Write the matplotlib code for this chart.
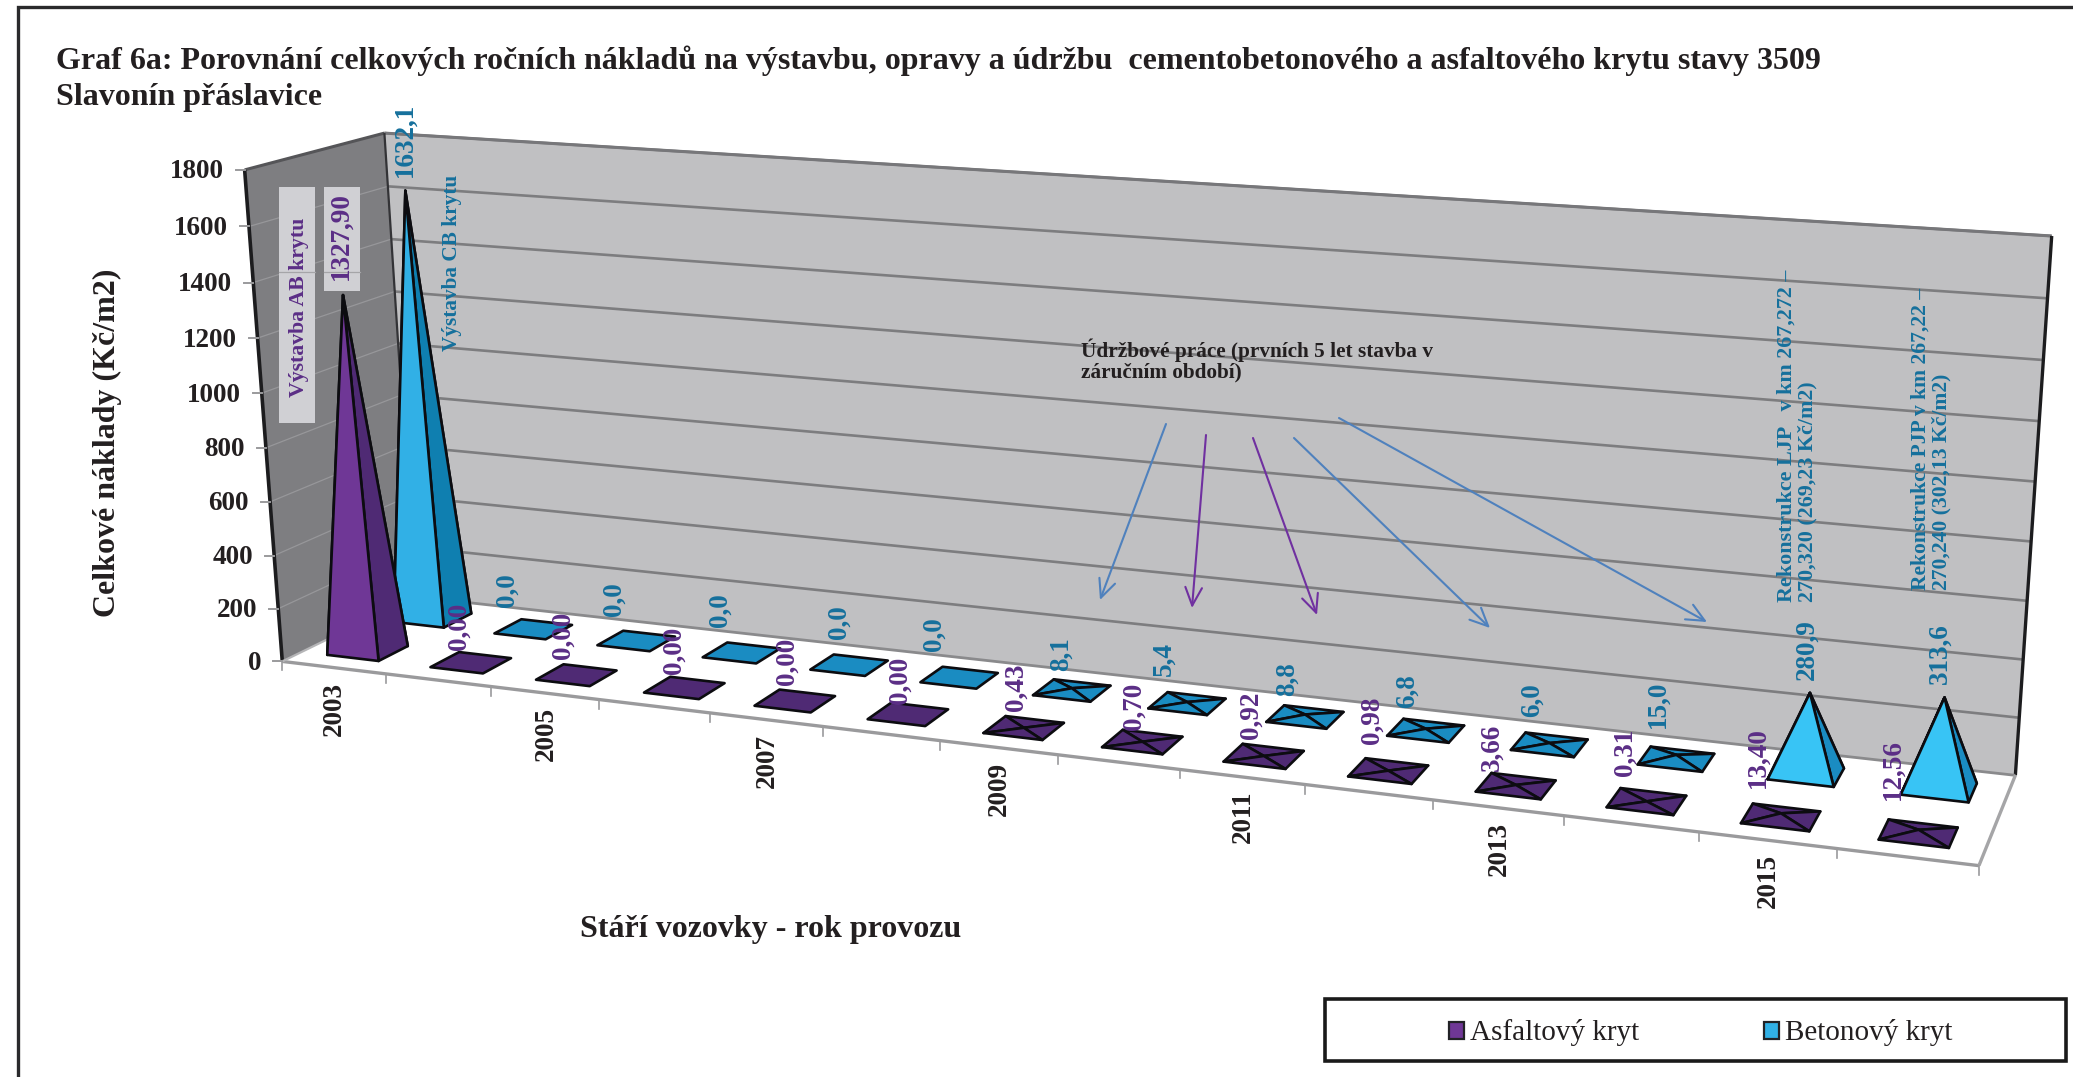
import numpy as np
import matplotlib
matplotlib.use("Agg")
import matplotlib.pyplot as plt
from matplotlib.patches import Polygon, Rectangle

plt.rcParams["font.family"] = ["Liberation Serif", "DejaVu Serif"]

# ---- data -------------------------------------------------------------
years = list(range(2003, 2017))
asphalt = [1327.90, 0.00, 0.00, 0.00, 0.00, 0.00, 0.43, 0.70, 0.92, 0.98, 3.66, 0.31, 13.40, 12.56]
concrete = [1632.1, 0.0, 0.0, 0.0, 0.0, 0.0, 8.1, 5.4, 8.8, 6.8, 6.0, 15.0, 280.9, 313.6]
y_ticks = list(range(0, 2000, 200))
series_names = ["Asfaltový kryt", "Betonový kryt"]

# ---- label nudges (pixels from the pyramid apex) --------------------------
asphalt_nudge = [(-2, -15), (-12, -13), (-13, -16), (-10, -14), (-8, -16), (-8, -10),
                 (-8, -17), (-8, -12), (-13, -17), (-16, -27), (-24, -14), (-21, -25),
                 (-23, -25), (-26, -30)]
concrete_nudge = [(0, -14), (-26, -22), (-22, -25), (-21, -26), (-10, -26), (-25, -27),
                  (-11, -17), (-23, -26), (-18, -19), (-19, -21), (-17, -26), (-18, -27),
                  (-3, -13), (-4, -13)]

# ---- palette ----------------------------------------------------------
DARK = "#231f20"
PURPLE_LIT, PURPLE_SIDE, PURPLE_TEXT = "#6f3796", "#4f2a74", "#5b2e86"
BLUE_TALL, BLUE_SHORT, BLUE_SIDE, BLUE_FLAT, BLUE_TEXT = "#31b0e6", "#38c4f5", "#0f7fb0", "#1a8cc2", "#15709c"
ARROW_BLUE, ARROW_PURPLE = "#4f81bd", "#7030a0"

W, H = 2073, 1077
fig = plt.figure(figsize=(W / 100, H / 100), dpi=100, facecolor="white")
ax = fig.add_axes([0, 0, 1, 1])
ax.set_xlim(0, W)
ax.set_ylim(H, 0)
ax.axis("off")

# ---- perspective camera, solved from the corners of the chart box -------
n_cat = len(years)
z_max = 1800.0
box_world = [(0, 0, 0), (n_cat, 0, 0), (n_cat, 1, 0), (0, 1, 0),
             (0, 0, z_max), (0, 1, z_max), (n_cat, 1, z_max)]
box_screen = [(279, 661), (1979, 866), (2015, 775), (418, 597),
              (248, 170), (381, 133), (2052, 236)]


def solve_camera(world, screen):
    rows = []
    for (a, b, c), (x, y) in zip(world, screen):
        p = [a / n_cat, b, c / z_max, 1.0]
        x, y = x / 1000, y / 1000
        rows.append(p + [0, 0, 0, 0] + [-x * q for q in p])
        rows.append([0, 0, 0, 0] + p + [-y * q for q in p])
    return np.linalg.svd(np.array(rows))[2][-1].reshape(3, 4)


CAM = solve_camera(box_world, box_screen)


def project(u, v, z):
    q = CAM @ np.array([u / n_cat, v, z / z_max, 1.0])
    return 1000 * q[0] / q[2], 1000 * q[1] / q[2]


def quad(points, color, zorder=1, **kw):
    ax.add_patch(Polygon([project(*p) for p in points], closed=True, facecolor=color,
                         edgecolor=kw.pop("edgecolor", "none"), zorder=zorder, **kw))


def seg(p, q, color, lw, zorder=2):
    a, b = project(*p), project(*q)
    ax.plot([a[0], b[0]], [a[1], b[1]], color=color, lw=lw, zorder=zorder, solid_capstyle="butt")


# ---- walls and floor ----------------------------------------------------
quad([(0, 1, 0), (n_cat, 1, 0), (n_cat, 1, z_max), (0, 1, z_max)], "#c0c0c2")
quad([(0, 0, 0), (0, 1, 0), (0, 1, z_max), (0, 0, z_max)], "#7e7e81")
quad([(0, 0, 0), (n_cat, 0, 0), (n_cat, 1, 0), (0, 1, 0)], "white", zorder=1.5)

for t in y_ticks[1:]:
    seg((0, 1, t), (n_cat, 1, t), "#7d7d7f", 1.9)
    seg((0, 0, t), (0, 1, t), "#97979a", 0.9)
seg((0, 1, z_max), (n_cat, 1, z_max), "#77777a", 2.2, zorder=2.1)
seg((0, 0, z_max), (0, 1, z_max), "#555558", 2.2, zorder=2.1)
seg((0, 0, 0), (0, 0, z_max), "#1c1c1e", 2.6, zorder=2.1)
seg((0, 1, 0), (0, 1, z_max), "#333336", 1.6, zorder=2.1)
seg((n_cat, 1, 0), (n_cat, 1, z_max), "#1c1c1e", 2.4, zorder=2.1)
seg((0, 1, 0), (n_cat, 1, 0), "#8a8a8c", 2.0, zorder=2.1)
seg((0, 0, 0), (n_cat, 0, 0), "#9a9a9c", 2.4, zorder=2.1)
seg((0, 0, 0), (0, 1, 0), "#b5b5b7", 1.6, zorder=2.1)
seg((n_cat, 0, 0), (n_cat, 1, 0), "#a5a5a7", 2.4, zorder=2.1)

# category ticks below the front floor edge
for i in range(n_cat + 1):
    x, y = project(i, 0, 0)
    ax.plot([x, x], [y, y + 9], color="#9a9a9c", lw=1.2, zorder=2.1)

# value axis
for t in y_ticks:
    x, y = project(0, 0, t)
    ax.plot([x - 9, x], [y, y], color="#9a9a9c", lw=1.4, zorder=2.1)
    ax.text(x - 21, y + 2, str(t), ha="right", va="center", fontsize=19.5, fontweight="bold", color=DARK, zorder=6)

# year labels, every second category
for i, yr in enumerate(years):
    if i % 2 == 0:
        x, y = project(i + 0.5, 0, 0)
        ax.text(x + 1, y + 14, str(yr), rotation=90, ha="center", va="top", fontsize=19.5,
                fontweight="bold", color=DARK, zorder=6)


# ---- pyramids -----------------------------------------------------------
def pyramid(i, v0, v1, value, tall, short, side, flat):
    u0, u1 = i + 0.25, i + 0.75
    um, vm = i + 0.5, (v0 + v1) / 2
    fl, fr = (u0, v0, 0), (u1, v0, 0)
    br, bl = (u1, v1, 0), (u0, v1, 0)
    apex = (um, vm, value)
    outline = dict(edgecolor="#0c0c10", linewidth=1.9, joinstyle="round")
    if value == 0:
        quad([fl, fr, br, bl], flat, zorder=4, **outline)
        return
    if value > 1000:
        front, right = tall, side
    elif value > 100:
        front, right = short, flat
    else:
        front, right = flat, flat
    for face, col in (((bl, br, apex), right), ((fl, bl, apex), right),
                      ((fr, br, apex), right), ((fl, fr, apex), front)):
        quad(list(face), col, zorder=4, **outline)


ROWS = [(concrete, 0.64, 0.86, BLUE_TALL, BLUE_SHORT, BLUE_SIDE, BLUE_FLAT),
        (asphalt, 0.14, 0.36, PURPLE_LIT, PURPLE_LIT, PURPLE_SIDE, PURPLE_SIDE)]
for values, v0, v1, tall, short, side, flat in ROWS:
    for i, val in enumerate(values):
        pyramid(i, v0, v1, val, tall, short, side, flat)

# ---- value labels -------------------------------------------------------
for i, val in enumerate(asphalt):
    x, y = project(i + 0.5, 0.25, val)
    dx, dy = asphalt_nudge[i]
    ax.text(x + dx, y + dy, f"{val:.2f}".replace(".", ","), rotation=90, ha="center", va="bottom",
            fontsize=19.5, fontweight="bold", color=PURPLE_TEXT, zorder=7)
for i, val in enumerate(concrete):
    x, y = project(i + 0.5, 0.75, val)
    dx, dy = concrete_nudge[i]
    ax.text(x + dx, y + dy, f"{val:.1f}".replace(".", ","), rotation=90, ha="center", va="bottom",
            fontsize=19.5, fontweight="bold", color=BLUE_TEXT, zorder=7)

# ---- callouts -----------------------------------------------------------
ax.add_patch(Rectangle((279, 187), 36, 236, facecolor="#d0d0d4", edgecolor="none", zorder=3))
ax.add_patch(Rectangle((324, 187), 36, 104, facecolor="#d0d0d4", edgecolor="none", zorder=3))
ax.plot([279, 315], [272, 272], color="#a5a5a8", lw=0.9, zorder=3.1)
ax.plot([324, 360], [272, 272], color="#a5a5a8", lw=0.9, zorder=3.1)
ax.text(299, 397, "Výstavba AB krytu", rotation=90, ha="center", va="bottom", fontsize=15.7,
        fontweight="bold", color=PURPLE_TEXT, zorder=7)
ax.text(452, 351, "Výstavba CB krytu", rotation=90, ha="center", va="bottom", fontsize=15.3,
        fontweight="bold", color=BLUE_TEXT, zorder=7)
ax.text(1081, 338, "Údržbové práce (prvních 5 let stavba v\nzáručním období)", ha="left", va="top",
        fontsize=15.3, fontweight="bold", color=DARK, linespacing=1.05, zorder=7)
ax.text(1797, 602, "Rekonstrukce LJP   v km 267,272 –\n270,320 (269,23 Kč/m2)", rotation=90, ha="center",
        va="bottom", multialignment="left", fontsize=15.8, fontweight="bold", color=BLUE_TEXT, linespacing=1.05, zorder=7)
ax.text(1931, 590, "Rekonstrukce PJP v km 267,22 –\n270,240 (302,13 Kč/m2)", rotation=90, ha="center",
        va="bottom", multialignment="left", fontsize=15.6, fontweight="bold", color=BLUE_TEXT, linespacing=1.05, zorder=7)

ARROWS = [((1166, 424), (1100, 600), ARROW_BLUE), ((1206, 435), (1192, 608), ARROW_PURPLE),
          ((1253, 438), (1317, 615), ARROW_PURPLE), ((1294, 438), (1490, 628), ARROW_BLUE),
          ((1339, 418), (1707, 622), ARROW_BLUE)]
for start, end, col in ARROWS:
    ax.annotate("", xy=end, xytext=start, zorder=3,
                arrowprops=dict(arrowstyle="->,head_length=1.3,head_width=0.6", color=col, lw=1.5,
                                shrinkA=0, shrinkB=0))

# ---- titles -------------------------------------------------------------
ax.text(56, 61, "Graf 6a: Porovnání celkových ročních nákladů na výstavbu, opravy a údržbu  "
        "cementobetonového a asfaltového krytu stavy 3509", ha="left", va="center", fontsize=23,
        fontweight="bold", color=DARK, zorder=7)
ax.text(56, 98, "Slavonín přáslavice", ha="left", va="center", fontsize=23, fontweight="bold", color=DARK, zorder=7)
ax.text(107, 443, "Celkové náklady (Kč/m2)", rotation=90, ha="center", va="center", fontsize=23,
        fontweight="bold", color=DARK, zorder=7)
ax.text(771, 930, "Stáří vozovky - rok provozu", ha="center", va="center", fontsize=23,
        fontweight="bold", color=DARK, zorder=7)

# ---- legend and outer frame ---------------------------------------------
ax.add_patch(Rectangle((1325, 999), 741, 62, facecolor="white", edgecolor="#1a1a1a", lw=2.6, zorder=5))
for x0, col, name in [(1449, PURPLE_LIT, series_names[0]), (1764, BLUE_TALL, series_names[1])]:
    ax.add_patch(Rectangle((x0, 1022), 15, 17, facecolor=col, edgecolor="#222226", lw=1.6, zorder=6))
    ax.text(x0 + 21, 1032, name, ha="left", va="center", fontsize=21, color=DARK, zorder=6)

ax.plot([18, 18, W], [H, 7, 7], color="#2a2a2c", lw=2.4, zorder=0.5, solid_joinstyle="miter")

fig.savefig("out.png", dpi=100, facecolor="white")
